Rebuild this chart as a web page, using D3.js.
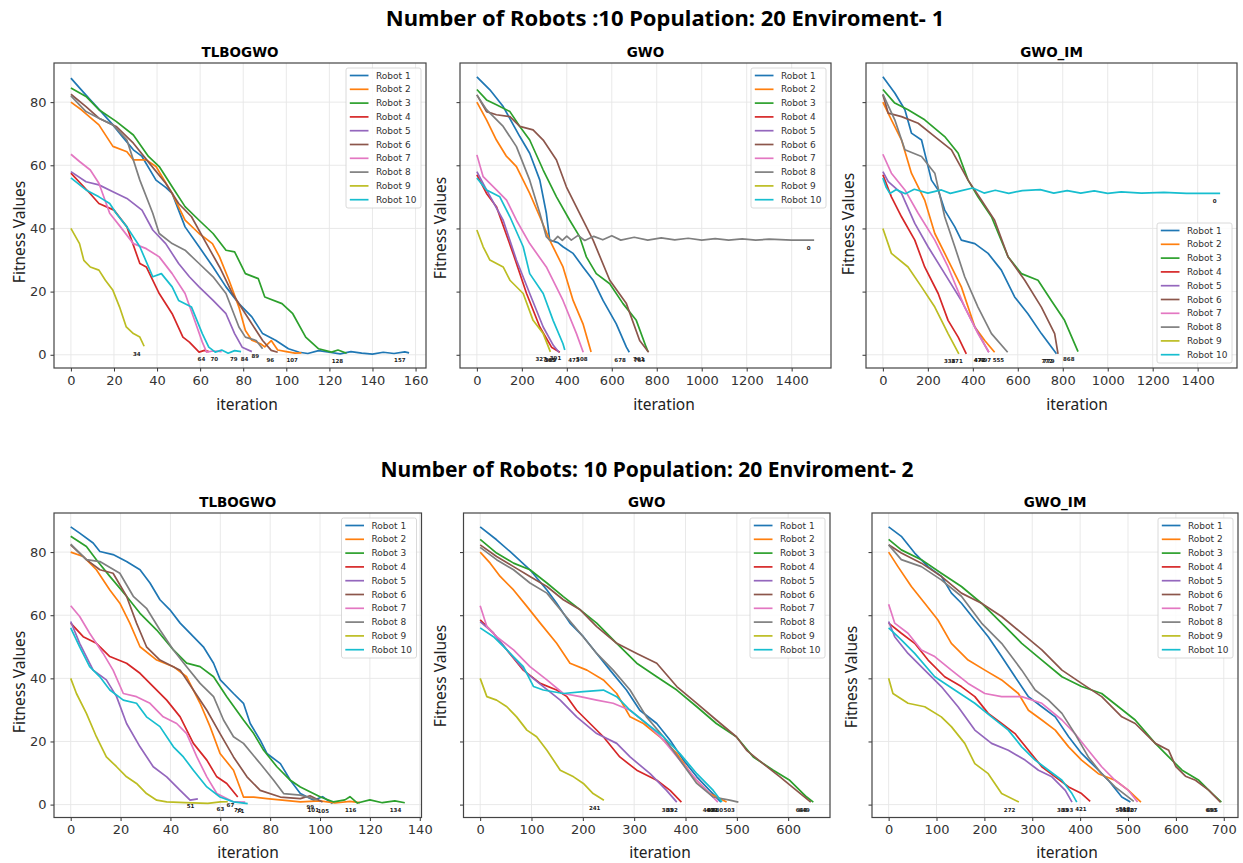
<!DOCTYPE html>
<html>
<head>
<meta charset="utf-8">
<title>Number of Robots - Fitness per iteration</title>
<script src="https://cdn.jsdelivr.net/npm/d3@7"></script>
<style>
    body { margin: 0; background: #fff; }
</style>
</head>
<body>
<svg id="chart" width="1243" height="863"></svg>
<script>
    // ---- data ----
    var robots = ["Robot 1", "Robot 2", "Robot 3", "Robot 4", "Robot 5",
                  "Robot 6", "Robot 7", "Robot 8", "Robot 9", "Robot 10"];
    var colors = ["#1f77b4", "#ff7f0e", "#2ca02c", "#d62728", "#9467bd",
                  "#8c564b", "#e377c2", "#7f7f7f", "#bcbd22", "#17becf"];
    var yTicks = [0, 20, 40, 60, 80];
    var ticksTlbo1 = [0, 20, 40, 60, 80, 100, 120, 140, 160];
    var ticksGwo1 = [0, 200, 400, 600, 800, 1000, 1200, 1400];
    var ticksTlbo2 = [0, 20, 40, 60, 80, 100, 120, 140];
    var ticksGwo2 = [0, 100, 200, 300, 400, 500, 600];
    var ticksGwoIm2 = [0, 100, 200, 300, 400, 500, 600, 700];

    // Environment 1, TLBOGWO : [iteration, fitness] per robot
    var env1Tlbo = [
        [[0,87.6],[4,84.5],[9,80.7],[14,77],[19.5,72.8],[24,69],[29,64.9],[33,62.8],[39.5,55.3],[44,53],[47,51.1],[53,40.5],[59.5,34.2],[66,27.8],[72,21.5],[78,16.2],[84,12],[89,6.7],[95,4.6],[101,1.9],[106,0.8],[110,0.4],[115,1.3],[120,0.8],[125,0.3],[130,1.0],[135,0.5],[140,0.2],[145,0.8],[150,0.4],[155,0.9],[157,0.6]],
        [[0,80],[5,77.5],[13,72.8],[19.5,66],[26,64.3],[29,61.7],[35,61.7],[39.5,59.6],[47,51.1],[53,42.6],[59.5,38.4],[65.7,35.2],[69,31],[73.4,23.6],[78,15.1],[81,7.7],[84,4.6],[88,3.5],[90,2.5],[93,4.5],[96,1.5],[100,1],[104,0.5],[107,0.6]],
        [[0,84.5],[7,81.8],[13,77.6],[21,73.9],[29,69.6],[36,62.8],[41,59.6],[47,53.2],[53,46.9],[59.5,42.6],[66,38.4],[72,33.1],[76,32.6],[81,25.7],[87,24.1],[90,18.3],[98,16.2],[103,13],[109,5.6],[115,1.9],[121,0.85],[124,1.5],[128,0.5]],
        [[0,57.5],[9,51],[13,47.9],[20,45.8],[26,40.5],[32,28.9],[35,27.8],[41,19.4],[47,13],[52,5.6],[55,4],[59.5,0.85],[62,1.4],[64,1]],
        [[0,58],[7,54.8],[13,53.8],[19.5,51.6],[26,49.5],[33,45.8],[38,39.5],[44,35.2],[50,28.9],[55,24.7],[59.5,21.5],[66,17.2],[72,13],[76,6.7],[79.5,2.4],[84,1]],
        [[0,82.5],[7,78.6],[13,74.9],[21,72.3],[29,67],[36.5,60.6],[44,54.3],[50,47.9],[56,43.7],[62,36.3],[69,27.8],[75,19.4],[81,13],[86,7.7],[89,4.5],[93,1.4],[96,0.8]],
        [[0,63.5],[4,61.2],[9,58.5],[13,54.3],[18,44.8],[23,40.5],[29,35.2],[35,33.6],[41,31],[47,25.7],[53,19.4],[58,9.8],[61,4],[63,0.85],[66,1.2],[70,1]],
        [[0,82],[7,77],[13,74.9],[19.5,72.8],[26,68],[32,55.3],[38,44.8],[41,38.4],[47,35.2],[53,33.1],[59.5,28.9],[66,24.7],[72,19.4],[78,8.8],[81,5.6],[86,4.5],[89,1.9]],
        [[0,40],[4,35.2],[6,29.9],[9,27.8],[13,26.8],[16,23.6],[19.5,20.4],[22.6,15.1],[25.7,8.8],[29,6.7],[32,5.6],[34,2.7]],
        [[0,56],[7,52.2],[13,50],[18,47.9],[21,44.8],[26,40.5],[32,34.2],[38,24.7],[42,25.7],[47,21.5],[50,17.2],[56,15.1],[61,6.7],[64,2.4],[67,0.85],[70,1.5],[73,0.5],[76,1.3],[79,1]]
    ];
    var env1TlboEnds = ["157", "107", "128", "64", "84", "96", "70", "89", "34", "79"];

    // Environment 1, GWO
    var env1Gwo = [
        [[0,88],[58,83.9],[117,78.6],[191,69.1],[235,63.8],[280,55.3],[309,44.8],[324,36.3],[360,35.5],[383,34.2],[428,32.1],[472,27.8],[517,23.6],[561,17.2],[620,9.8],[665,2.4],[678,0.8]],
        [[0,80],[43,74.4],[87,68],[130,63],[176,59.6],[235,51.1],[280,43.7],[324,36.3],[383,27.8],[428,17.2],[472,9.8],[508,0.9]],
        [[0,84],[43,80.7],[87,79.2],[147,77],[191,72.3],[235,68],[295,58.5],[354,50],[413,42.6],[457,37.4],[487,31],[531,25.7],[591,22.5],[650,16.2],[709,10.9],[753,2.4],[761,1]],
        [[0,57],[43,51.1],[87,46.9],[161,32.1],[221,19.4],[280,8.8],[332,2.4],[369,0.8]],
        [[0,58],[43,52.2],[117,42.6],[176,30],[235,19.4],[295,8.8],[340,3],[365,0.8]],
        [[0,82.3],[43,77],[87,76],[147,75.4],[191,72.3],[250,71.2],[295,68],[354,61.7],[398,53.2],[457,44.8],[517,36.3],[591,23.6],[665,16.2],[724,4.5],[764,0.8]],
        [[0,63.3],[28,56.4],[87,52.2],[132,49],[176,42.6],[235,35.2],[309,27.8],[383,17.2],[443,6.7],[473,0.8]],
        [[0,82.3],[43,77.6],[117,72.3],[176,65.9],[235,55.3],[280,44.8],[309,37.4],[324,36.3],[340,36],[360,37.5],[380,36.2],[400,37.6],[420,36.3],[450,37.8],[480,36.2],[520,37.5],[560,36.4],[600,37.7],[640,36.3],[700,37.2],[760,36.3],[820,37],[880,36.4],[940,36.9],[1000,36.3],[1060,36.8],[1120,36.3],[1180,36.7],[1240,36.3],[1300,36.6],[1400,36.3],[1500,36.3]],
        [[0,39.5],[28,34.2],[58,30],[117,27.8],[147,23.6],[206,19.4],[250,10.9],[295,6.7],[327,0.9]],
        [[0,56],[43,52.2],[102,50],[147,43.7],[206,34.2],[235,25.7],[295,19.4],[339,10.9],[383,3.5],[391,1.5]]
    ];
    var env1GwoEnds = ["678", "508", "761", "369", "365", "764", "473", "0", "327", "391"];

    // Environment 1, GWO_IM
    var env1GwoIm = [
        [[0,88],[53,82.9],[98,77.6],[127,70.2],[172,68],[216,55.3],[246,52.2],[275,45.8],[320,40.5],[349,36.3],[409,35.2],[468,32.1],[527,26.8],[586,18.3],[645,13],[705,6.7],[772,0.3]],
        [[0,80],[38,74.4],[83,68],[127,57.5],[186,49],[231,38.4],[290,30],[349,21.5],[409,8.8],[453,4.5],[497,0.8]],
        [[0,84],[53,79.7],[112,77.6],[186,74.4],[275,69.1],[335,63.8],[379,55.3],[423,50],[483,43.7],[557,31],[616,25.7],[690,23.6],[749,17.2],[808,10.9],[868,1]],
        [[0,57],[38,50],[83,43.7],[142,36.3],[186,27.8],[246,19.4],[290,10.9],[335,5.6],[371,0.3]],
        [[0,58],[24,54.8],[83,51.1],[142,41.6],[201,34.2],[275,25.7],[349,17.2],[409,8.8],[471,0.8]],
        [[0,82.3],[24,76.5],[83,75.4],[157,73.3],[231,69.1],[305,64.9],[379,55.3],[438,49],[497,42.6],[557,31],[631,23.6],[705,15.1],[764,6.7],[779,0.3]],
        [[0,63.5],[38,57.5],[98,52.2],[157,44.8],[231,36.3],[290,27.8],[364,15.1],[423,6.7],[472,0.8]],
        [[0,82.5],[53,74.4],[98,64.9],[172,62.8],[231,57.5],[275,43.7],[320,34.2],[364,24.7],[423,15.1],[483,6.7],[555,0.8]],
        [[0,40],[38,32.1],[112,27.8],[172,21.5],[231,15.1],[290,6.7],[338,0.3]],
        [[0,56],[15,53],[31,51.1],[60,52.3],[100,51],[140,52.4],[200,51.2],[260,52.2],[300,51.1],[350,52],[400,52.8],[450,51.2],[500,52.1],[560,51.1],[620,52],[700,52.3],[760,51.2],[820,52],[880,51.2],[940,51.9],[1000,51.1],[1060,51.6],[1150,51.2],[1250,51.4],[1350,51.1],[1500,51.1]]
    ];
    var env1GwoImEnds = ["772", "497", "868", "371", "471", "779", "472", "555", "338", "0"];

    // Environment 2, TLBOGWO
    var env2Tlbo = [
        [[0,88],[3.6,86],[9,82.9],[11.7,80.2],[17,79.2],[22.4,77],[27.8,74.4],[31.8,70.2],[35.8,64.9],[39.8,61.7],[43.9,57.5],[49.2,53.2],[53.2,50],[57.3,44.8],[60,39.5],[65.3,35.2],[69.3,32.1],[72,25.7],[76,20.4],[78.7,16.2],[84.1,13],[88.1,7.7],[92.1,3.5],[97.5,1.4],[101,2.5],[105,0.3]],
        [[0,80],[5,78.6],[10.3,74.4],[15.7,68],[19.7,63.8],[23.7,57.5],[27.8,50],[34.5,45.8],[41.2,43.7],[46.5,40.5],[51.9,32.1],[55.9,24.7],[59.9,16.2],[65.3,10.9],[69.3,2.4],[73.4,2.4],[78.7,1.9],[92.1,0.85],[100,1.2],[106,0.5],[112,1],[116,0.6]],
        [[0,85],[6.3,81.8],[10.3,77.6],[15.7,72.3],[22.4,66],[27.8,60.6],[34.5,55.3],[41.2,49],[46.5,44.8],[51.9,43.7],[57.3,40.5],[62.6,34.2],[69.3,26.8],[73.4,22.5],[77.4,17.2],[82.7,12],[88.1,7.7],[92.1,5.6],[100.2,2.4],[105.5,0.85],[110,1.5],[112,2.5],[115,0.5],[120,1.5],[125,0.6],[130,1.2],[134,0.6]],
        [[0,57.5],[5,53.2],[10.3,51.1],[15.7,46.9],[22.4,44.8],[27.8,41.6],[33.1,37.4],[38.5,33.1],[43.9,27.8],[49.2,19.4],[54.6,14.1],[58.6,8.8],[62.6,6.7],[67,2.4]],
        [[0,58],[3.6,51.1],[9,42.6],[14.3,39.5],[18.4,34.2],[22.4,25.7],[27.8,18.3],[33.1,12],[38.5,8.8],[43.9,4.5],[47.9,1.4],[51,1.8]],
        [[0,82.3],[6.3,77.6],[11.7,74.4],[17,73.3],[22.4,66],[26.4,57.5],[30.4,50],[35.8,45.8],[43.9,42.6],[49.2,36.3],[54.6,29.9],[59.9,22.5],[65.3,15.1],[70.7,8.8],[76,4.5],[84.1,2.4],[92.1,1.9],[96,2.8],[101,0.8]],
        [[0,63],[3.6,59.6],[7.6,54.3],[13,47.9],[17,42.6],[21.1,35.2],[26.4,34.2],[31.8,32.1],[37.1,27.8],[42.5,25.7],[46.5,22.5],[50.6,15.1],[54.6,8.8],[58.6,3.5],[65.3,0.85],[70,0.8]],
        [[0,82.5],[6.3,77.6],[11.7,77],[19.7,73.3],[25.1,66],[30.4,62.2],[35.8,55.3],[41.2,49],[46.5,43.7],[51.9,38.4],[57.3,34.2],[61.3,26.8],[65.3,21.5],[69.3,19.4],[76,13],[81.4,7.7],[85.4,3.5],[92.1,3],[99,1.5]],
        [[0,40],[2.3,35.2],[6.3,28.9],[10.3,21.5],[14.3,15.1],[18.4,12],[22.4,8.8],[26.4,6.7],[30.4,3.5],[34.5,1.4],[38.5,0.85],[46,0.6],[55,0.4],[60,0.85],[63,0.9]],
        [[0,56],[3.6,50],[7.6,43.7],[11.7,40.5],[15.7,36.3],[21.1,33.1],[26.4,32.1],[30.4,27.8],[35.8,24.7],[41.2,18.3],[45.2,15.1],[49.2,10.9],[54.6,5.6],[59.9,2.4],[65.3,0.85],[71,0.3]]
    ];
    var env2TlboEnds = ["105", "116", "134", "67", "51", "101", "70", "99", "63", "71"];

    // Environment 2, GWO
    var env2Gwo = [
        [[0,88],[32,83.9],[58,80.2],[97,74.4],[130,68],[149,63.8],[175,57.5],[201,53.2],[227,47.9],[253,42.6],[285,36.3],[311,29.9],[344,25.7],[370,20.4],[396,14.1],[422,8.8],[447,4.5],[469,0.8]],
        [[0,80],[19.5,76.5],[39,72.3],[65,68],[91,62.8],[117,57.5],[149,51.1],[175,44.8],[208,42.6],[240,39.5],[266,35.2],[292,27.8],[318,25.7],[350,21.5],[383,16.2],[415,8.8],[447,3.5],[480,0.8]],
        [[0,84],[32,79.7],[65,76.5],[97,74.4],[130,70.2],[162,65.9],[195,61.7],[227,57.5],[266,51.1],[305,44.8],[344,40.5],[383,36.3],[422,31],[460,25.7],[499,21.5],[532,15.1],[571,10.9],[603,7.7],[636,2.4],[649,0.8]],
        [[0,58.5],[26,54.3],[52,49],[84,42.6],[117,38.4],[149,36.3],[169,34.2],[188,29.9],[214,25.7],[240,21.5],[272,15.1],[305,10.9],[344,7.7],[370,4.5],[392,0.8]],
        [[0,58],[26,54.3],[58,47.9],[91,41.6],[123,37.4],[156,33.1],[188,27.8],[227,22.5],[266,19.4],[292,15.1],[331,9.8],[363,4.5],[383,0.8]],
        [[0,82.3],[32,78.6],[65,75.4],[97,72.3],[130,69.1],[162,64.9],[195,61.7],[227,56.4],[266,51.1],[305,47.9],[344,44.8],[383,37.4],[422,32.1],[460,26.8],[499,21.5],[519,17.2],[551,13],[584,8.8],[616,4.5],[644,0.8]],
        [[0,63],[13,56.4],[32,53.2],[65,49],[97,43.7],[130,39.5],[162,35.2],[195,34.2],[227,33.1],[259,32.1],[292,29.9],[324,25.7],[357,20.4],[389,14.1],[422,7.7],[447,3.5],[463,0.8]],
        [[0,81.5],[32,77.6],[65,74.4],[97,70.2],[130,67],[162,60.6],[195,54.3],[227,47.9],[259,42.6],[292,36.3],[324,27.8],[357,21.5],[389,14.1],[422,6.7],[454,2.4],[486,1.4],[503,0.8]],
        [[0,40],[13,34.2],[32,33.1],[52,31],[71,27.8],[91,23.6],[110,21.5],[130,17.2],[156,10.9],[182,8.8],[201,6.7],[220,3.5],[241,1.4]],
        [[0,56],[26,53.2],[52,49],[84,43.7],[104,37.4],[123,36.3],[162,35.2],[201,35.8],[240,36.3],[266,34.2],[292,29.9],[324,25.7],[357,21.5],[389,16.2],[422,9.8],[454,4.5],[471,0.8]]
    ];
    var env2GwoEnds = ["469", "480", "649", "392", "383", "644", "463", "503", "241", "471"];

    // Environment 2, GWO_IM
    var env2GwoIm = [
        [[0,88],[26.5,85],[54.4,79.7],[82.4,75.4],[110.3,72.3],[131.2,67],[152.2,63.8],[180,58.5],[208,53.2],[236,46.9],[264,40.5],[292,34.2],[320,31],[348,27.8],[376,21.5],[403,16.2],[431,12],[459,7.7],[487,2.4],[505,0.8]],
        [[0,80],[19.5,75.4],[47.5,69.1],[75.4,63.8],[103,58.5],[131,51.1],[166,45.8],[201,42.6],[236,39.5],[271,35.2],[292,29.9],[320,26.8],[348,23.6],[376,18.3],[403,14.1],[438,9.8],[473,7.7],[501,4.5],[527,0.8]],
        [[0,84],[26.5,80.7],[68.4,77.6],[110,73.3],[152,69.1],[194,63.8],[236,57.5],[278,51.1],[320,45.8],[362,40.5],[403,37.4],[445,35.2],[480,31],[515,26.8],[557,19.4],[585,15.1],[613,10.9],[648,7.7],[676,3.5],[695,0.8]],
        [[0,57.5],[26.5,54.3],[54.4,51.1],[82.4,45.8],[117,40.5],[152,37.4],[180,34.2],[208,28.9],[236,25.7],[264,22.5],[292,17.2],[320,12],[348,8.8],[376,5.6],[403,3.5],[421,1]],
        [[0,58],[12.6,53.2],[40.5,47.9],[75.4,42.6],[110,37.4],[145,31],[180,23.6],[215,19.4],[250,17.2],[285,14.1],[313,10.9],[341,8.8],[369,4.5],[383,0.8]],
        [[0,82.3],[26.5,79.7],[68.4,76.5],[110,72.3],[152,67],[194,63.8],[236,59.6],[278,54.3],[320,49],[362,42.6],[403,38.4],[445,34.2],[487,27.8],[515,25.7],[557,19.4],[585,17.2],[600,12],[620,9],[641,7.7],[669,4.5],[693,0.8]],
        [[0,63.5],[12.6,57.5],[40.5,54.3],[68.4,49],[96.3,46.9],[131,42.6],[166,38.4],[201,35.2],[236,34.2],[278,34.2],[320,32.1],[362,26.8],[389,22.5],[417,17.2],[445,12],[473,7.7],[501,4.5],[520,0.8]],
        [[0,82.3],[26.5,77.6],[68.4,75.4],[110,71.2],[152,66],[194,57.5],[236,51.1],[278,42.6],[306,36.3],[334,33.1],[362,28.9],[389,22.5],[417,15.1],[445,9.8],[473,5.6],[512,1]],
        [[0,40],[9,35.2],[40.5,32.1],[75.4,31],[110,27.8],[131,24.7],[159,19.4],[180,13],[208,9.8],[236,3.5],[272,0.8]],
        [[0,56],[26.5,52.2],[54.4,47.9],[96.3,40.5],[138,36.3],[180,32.1],[215,27.8],[250,23.6],[278,18.3],[306,14.1],[334,10.9],[362,7.7],[383,3.5],[393,0.8]]
    ];
    var env2GwoImEnds = ["505", "527", "695", "421", "383", "693", "520", "512", "272", "393"];

    // ---- layout ----
    var svg = d3.select("#chart");

    var panels = [
        {title: "TLBOGWO", data: env1Tlbo, ends: env1TlboEnds, ticks: ticksTlbo1,
         box: [54, 63, 426, 368], legend: "top", yLabels: true, ylab: [18.5, 232], xlab: [247, 410]},
        {title: "GWO", data: env1Gwo, ends: env1GwoEnds, ticks: ticksGwo1,
         box: [460, 63, 831, 368], legend: "top", yLabels: false, ylab: [440, 228], xlab: [664, 410]},
        {title: "GWO_IM", data: env1GwoIm, ends: env1GwoImEnds, ticks: ticksGwo1,
         box: [866, 63, 1237, 368], legend: "bottom", yLabels: false, ylab: [848, 224], xlab: [1077, 410]},
        {title: "TLBOGWO", data: env2Tlbo, ends: env2TlboEnds, ticks: ticksTlbo2,
         box: [54, 513, 421.5, 817.5], legend: "top", yLabels: true, ylab: [18.5, 682], xlab: [248, 858]},
        {title: "GWO", data: env2Gwo, ends: env2GwoEnds, ticks: ticksGwo2,
         box: [463.5, 513, 830, 817.5], legend: "top", yLabels: false, ylab: [440, 676], xlab: [660, 858]},
        {title: "GWO_IM", data: env2GwoIm, ends: env2GwoImEnds, ticks: ticksGwoIm2,
         box: [872, 513, 1238, 817.5], legend: "top", yLabels: false, ylab: [851, 677], xlab: [1067, 858]}
    ];

    // main titles
    svg.append("text")
        .attr("x", 665).attr("y", 26)
        .attr("text-anchor", "middle")
        .style("font-family", "'Noto Sans', 'Open Sans', sans-serif")
        .style("font-weight", "bold")
        .style("font-size", "22px")
        .text("Number of Robots :10 Population: 20 Enviroment- 1");

    svg.append("text")
        .attr("x", 647).attr("y", 477)
        .attr("text-anchor", "middle")
        .style("font-family", "'Noto Sans', 'Open Sans', sans-serif")
        .style("font-weight", "bold")
        .style("font-size", "21px")
        .text("Number of Robots: 10 Population: 20 Enviroment- 2");

    // y range shared per row
    function rowExtent(list) {
        var all = [];
        list.forEach(function(p) {
            p.data.forEach(function(s) { s.forEach(function(d) { all.push(d[1]); }); });
        });
        var lo = d3.min(all), hi = d3.max(all), m = (hi - lo) * 0.05;
        return [lo - m, hi + m];
    }
    var yDomTop = rowExtent(panels.slice(0, 3));
    var yDomBottom = rowExtent(panels.slice(3, 6));

    panels.forEach(function(p, pi) {
        var b = p.box;
        var xmax = d3.max(p.data, function(s) { return s[s.length - 1][0]; });
        var mx = xmax * 0.05;
        var x = d3.scaleLinear().domain([-mx, xmax + mx]).range([b[0], b[2]]);
        var y = d3.scaleLinear().domain(pi < 3 ? yDomTop : yDomBottom).range([b[3], b[1]]);

        var g = svg.append("g");

        // grid
        g.selectAll(".gx").data(p.ticks).enter().append("line")
            .attr("x1", d => x(d)).attr("x2", d => x(d))
            .attr("y1", b[1]).attr("y2", b[3])
            .attr("stroke", "#e6e6e6").attr("stroke-width", 0.9);
        g.selectAll(".gy").data(yTicks).enter().append("line")
            .attr("x1", b[0]).attr("x2", b[2])
            .attr("y1", d => y(d)).attr("y2", d => y(d))
            .attr("stroke", "#e6e6e6").attr("stroke-width", 0.9);

        // axes
        var xa = g.append("g")
            .attr("transform", "translate(0," + b[3] + ")")
            .call(d3.axisBottom(x).tickValues(p.ticks).tickSize(3.5).tickPadding(4)
                  .tickFormat(d3.format("d")));
        var ya = g.append("g")
            .attr("transform", "translate(" + b[0] + ",0)")
            .call(d3.axisLeft(y).tickValues(yTicks).tickSize(3.5).tickPadding(4)
                  .tickFormat(p.yLabels ? d3.format("d") : ""));
        [xa, ya].forEach(function(a) {
            a.select(".domain").remove();
            a.selectAll(".tick line").attr("stroke", "#333");
            a.selectAll(".tick text")
                .attr("fill", "#333")
                .style("font-family", "'DejaVu Sans', sans-serif")
                .style("font-size", "13px");
        });

        // lines
        var line = d3.line().x(d => x(d[0])).y(d => y(d[1]));
        var clipId = "clip" + pi;
        g.append("clipPath").attr("id", clipId).append("rect")
            .attr("x", b[0]).attr("y", b[1]).attr("width", b[2] - b[0]).attr("height", b[3] - b[1]);
        g.append("g").attr("clip-path", "url(#" + clipId + ")")
            .selectAll("path").data(p.data).enter().append("path")
            .attr("d", line)
            .attr("fill", "none")
            .attr("stroke", (d, i) => colors[i])
            .attr("stroke-width", 1.7)
            .attr("stroke-linejoin", "round");

        // end labels (iteration where each robot stopped)
        g.selectAll(".endlab").data(p.data).enter().append("text")
            .attr("x", d => x(d[d.length - 1][0]) - 3.5)
            .attr("y", d => y(d[d.length - 1][1]) + 9.5)
            .attr("text-anchor", "end")
            .style("font-family", "'DejaVu Sans', sans-serif")
            .style("font-weight", "bold")
            .style("font-size", "5.5px")
            .attr("fill", "#222")
            .text((d, i) => p.ends[i]);

        // frame
        g.append("rect")
            .attr("x", b[0]).attr("y", b[1])
            .attr("width", b[2] - b[0]).attr("height", b[3] - b[1])
            .attr("fill", "none").attr("stroke", "#444").attr("stroke-width", 1.2);

        // subplot title
        g.append("text")
            .attr("x", (b[0] + b[2]) / 2).attr("y", b[1] - 6.5)
            .attr("text-anchor", "middle")
            .style("font-family", "'DejaVu Sans', sans-serif")
            .style("font-weight", "bold")
            .style("font-size", "13.5px")
            .text(p.title);

        // axis labels
        g.append("text")
            .attr("x", p.xlab[0]).attr("y", p.xlab[1])
            .attr("text-anchor", "middle")
            .style("font-family", "'Noto Sans', 'Open Sans', sans-serif")
            .style("font-size", "15.5px")
            .attr("fill", "#222")
            .text("iteration");
        g.append("text")
            .attr("transform", "translate(" + p.ylab[0] + "," + p.ylab[1] + ") rotate(-90)")
            .attr("text-anchor", "middle")
            .attr("dominant-baseline", "central")
            .style("font-family", "'Noto Sans', 'Open Sans', sans-serif")
            .style("font-size", "15.5px")
            .attr("fill", "#222")
            .text("Fitness Values");

        // legend
        var lw = 75, lh = 140;
        var lx = b[2] - 5 - lw;
        var ly = p.legend === "top" ? b[1] + 5 : b[3] - 5 - lh;
        var leg = g.append("g").attr("transform", "translate(" + lx + "," + ly + ")");
        leg.append("rect")
            .attr("width", lw).attr("height", lh).attr("rx", 2)
            .attr("fill", "#fff").attr("fill-opacity", 0.85)
            .attr("stroke", "#d0d0d0").attr("stroke-width", 0.8);
        var items = leg.selectAll(".item").data(robots).enter().append("g")
            .attr("transform", (d, i) => "translate(0," + (7.5 + i * 13.8) + ")");
        items.append("line")
            .attr("x1", 3.8).attr("x2", 22.5)
            .attr("stroke", (d, i) => colors[i]).attr("stroke-width", 1.7);
        items.append("text")
            .attr("x", 30).attr("y", 0)
            .attr("dominant-baseline", "central")
            .style("font-family", "'DejaVu Sans', sans-serif")
            .style("font-size", "9px")
            .attr("fill", "#333")
            .text(d => d);
    });
</script>
</body>
</html>
